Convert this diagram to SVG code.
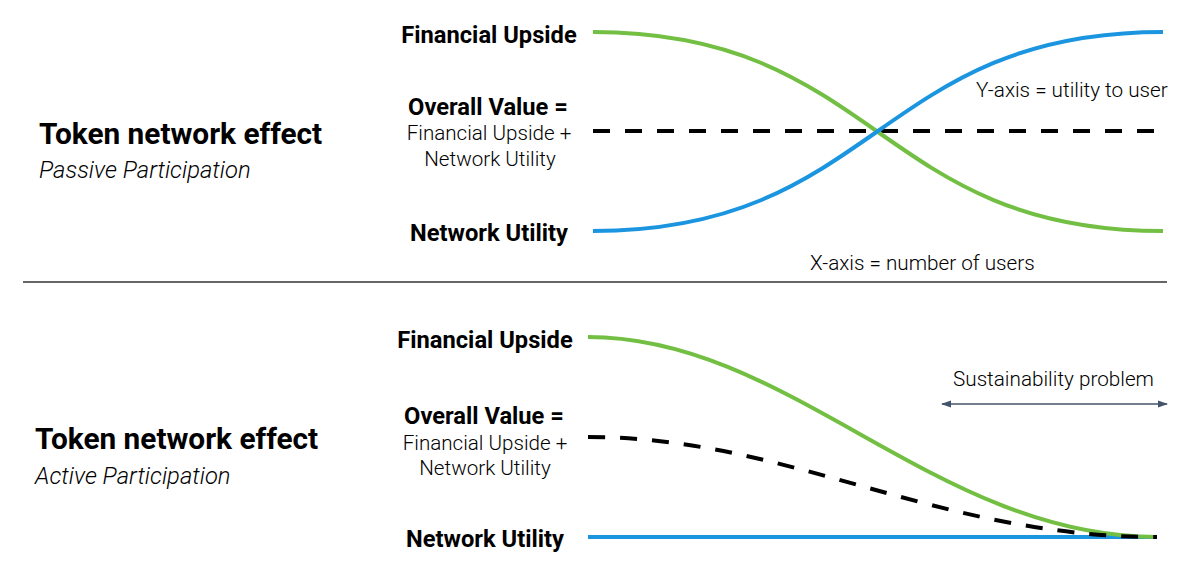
<svg xmlns="http://www.w3.org/2000/svg" width="1200" height="572" viewBox="0 0 1200 572">
<defs>
<marker id="ah" viewBox="0 0 10 10" refX="9" refY="5" markerWidth="10" markerHeight="10" orient="auto-start-reverse" markerUnits="userSpaceOnUse">
<path d="M0,1.5 L10,5 L0,8.5 Z" fill="#44546A"/>
</marker>
<style>
text{font-family:Roboto,"Liberation Sans",sans-serif;fill:#000}
.title{font-size:29.8px;font-weight:700}
.sub{font-size:23.8px;font-style:italic;font-weight:300}
.lab{font-size:23.7px;font-weight:700;text-anchor:middle}
.small{font-size:20.6px;font-weight:300;text-anchor:middle}
.axis{font-size:20.7px;font-weight:300}
.green{fill:none;stroke:#72BF44;stroke-width:4}
.blue{fill:none;stroke:#1B95E0;stroke-width:4}
.dash{fill:none;stroke:#000;stroke-width:4;stroke-dasharray:17 15}
</style>
</defs>
<rect width="1200" height="572" fill="#fff"/>

<g id="top-title">
<text class="title" x="39" y="144">Token network effect</text>
<text class="sub" x="39" y="178">Passive Participation</text>
</g>
<g id="top-financial"><text class="lab" x="489" y="43">Financial Upside</text></g>
<g id="top-overall">
<text class="lab" x="488" y="115">Overall Value =</text>
<text class="small" x="489" y="140">Financial Upside +</text>
<text class="small" x="490" y="166">Network Utility</text>
</g>
<g id="top-network"><text class="lab" x="489" y="241">Network Utility</text></g>
<g id="top-axes">
<text class="axis" x="976" y="97">Y-axis = utility to user</text>
<text class="axis" x="810" y="270">X-axis = number of users</text>
</g>

<line id="divider" x1="23" y1="282" x2="1167" y2="282" stroke="#333" stroke-width="1.5"/>

<g id="bottom-title">
<text class="title" x="35" y="449">Token network effect</text>
<text class="sub" x="35" y="484">Active Participation</text>
</g>
<g id="bottom-financial"><text class="lab" x="485" y="348">Financial Upside</text></g>
<g id="bottom-overall">
<text class="lab" x="484" y="424">Overall Value =</text>
<text class="small" x="485" y="450">Financial Upside +</text>
<text class="small" x="485" y="475">Network Utility</text>
</g>
<g id="bottom-network"><text class="lab" x="485" y="547">Network Utility</text></g>
<g id="bottom-note"><text class="axis" x="953" y="386">Sustainability problem</text></g>

<g id="connectors">
<path class="dash" d="M593,131 H1163"/>
<path class="green" d="M593,32 C877,32 877,231 1163,231"/>
<path class="blue" d="M593,231 C877,231 877,32 1163,32"/>

<path class="blue" d="M588,537 H1157"/>
<path class="green" d="M588,337 C790,337 935,537 1157,537"/>
<path class="dash" d="M588,437 C790,437 935,537 1157,537"/>
<line x1="942" y1="404" x2="1167" y2="404" stroke="#44546A" stroke-width="1.5" marker-start="url(#ah)" marker-end="url(#ah)"/>
</g>
</svg>
